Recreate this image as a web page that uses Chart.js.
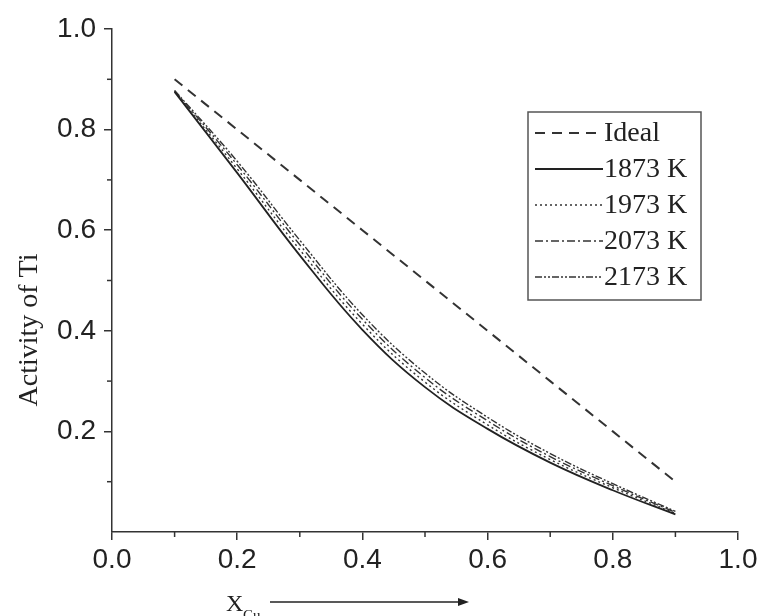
<!DOCTYPE html>
<html>
<head>
<meta charset="utf-8">
<script src="https://cdn.jsdelivr.net/npm/chart.js@4.4.0/dist/chart.umd.min.js"></script>
<style>
  body { margin: 0; background: #fff; }
  canvas { display: block; }
</style>
</head>
<body>
<canvas id="activityChart" width="763" height="616"></canvas>
<script>
// mole fraction of Cu
const xCu = [0.1, 0.2, 0.3, 0.4, 0.5, 0.6, 0.7, 0.8, 0.9];

// activity of Ti
const ideal = [0.9, 0.8, 0.7, 0.6, 0.5, 0.4, 0.3, 0.2, 0.1];
const a1873 = [0.875, 0.714, 0.550, 0.402, 0.288, 0.205, 0.138, 0.083, 0.035];
const a1973 = [0.876, 0.722, 0.561, 0.413, 0.298, 0.213, 0.144, 0.088, 0.037];
const a2073 = [0.877, 0.730, 0.571, 0.423, 0.307, 0.221, 0.150, 0.092, 0.039];
const a2173 = [0.878, 0.737, 0.580, 0.432, 0.316, 0.228, 0.156, 0.096, 0.041];

const seriesLabels = ['Ideal', '1873 K', '1973 K', '2073 K', '2173 K'];
const majorTicks = [0, 0.2, 0.4, 0.6, 0.8, 1.0];
const minorTicks = [0.1, 0.3, 0.5, 0.7, 0.9];

const axisColor = '#333';
const sansFont = "'Liberation Sans', Arial, sans-serif";
const serifFont = "'Liberation Serif', 'Times New Roman', serif";

function toPoints(ys) {
    return xCu.map((x, i) => ({ x: x, y: ys[i] }));
}

// short outward ticks between the labelled ones
const minorTickPlugin = {
    id: 'minorTicks',
    afterDraw(chart) {
        const { ctx, chartArea, scales } = chart;
        ctx.save();
        ctx.strokeStyle = axisColor;
        ctx.lineWidth = 1.5;
        minorTicks.forEach(v => {
            const px = scales.x.getPixelForValue(v);
            ctx.beginPath();
            ctx.moveTo(px, chartArea.bottom);
            ctx.lineTo(px, chartArea.bottom + 5);
            ctx.stroke();
            const py = scales.y.getPixelForValue(v);
            ctx.beginPath();
            ctx.moveTo(chartArea.left, py);
            ctx.lineTo(chartArea.left - 5, py);
            ctx.stroke();
        });
        ctx.restore();
    }
};

// boxed legend inside the plot, line sample followed by the label
const boxLegendPlugin = {
    id: 'boxLegend',
    afterDraw(chart) {
        const { ctx } = chart;
        const left = 528, top = 112, width = 173, height = 188;
        const rowGap = 36, firstRow = 133;
        ctx.save();
        ctx.strokeStyle = '#555';
        ctx.lineWidth = 1.5;
        ctx.strokeRect(left, top, width, height);
        ctx.font = '28px ' + serifFont;
        ctx.textBaseline = 'middle';
        ctx.textAlign = 'left';
        chart.data.datasets.forEach((ds, i) => {
            const y = firstRow + i * rowGap;
            ctx.strokeStyle = ds.borderColor;
            ctx.lineWidth = ds.borderWidth;
            ctx.setLineDash(ds.borderDash || []);
            ctx.beginPath();
            ctx.moveTo(535, y);
            ctx.lineTo(603, y);
            ctx.stroke();
            ctx.setLineDash([]);
            ctx.fillStyle = '#222';
            ctx.fillText(ds.label, 604, y + 1);
        });
        ctx.restore();
    }
};

// axis titles: rotated y title and x_Cu with an arrow
const axisTitlePlugin = {
    id: 'axisTitles',
    afterDraw(chart) {
        const { ctx } = chart;
        ctx.save();
        ctx.fillStyle = '#222';
        ctx.font = '28px ' + serifFont;
        ctx.textAlign = 'center';
        ctx.textBaseline = 'middle';
        ctx.translate(30, 330);
        ctx.rotate(-Math.PI / 2);
        ctx.fillText('Activity of Ti', 0, 0);
        ctx.restore();

        ctx.save();
        ctx.fillStyle = '#222';
        ctx.textAlign = 'left';
        ctx.textBaseline = 'alphabetic';
        ctx.font = '24px ' + serifFont;
        ctx.fillText('X', 226, 611);
        ctx.font = '15px ' + serifFont;
        ctx.fillText('Cu', 243, 620);
        ctx.strokeStyle = '#222';
        ctx.lineWidth = 1.5;
        ctx.beginPath();
        ctx.moveTo(270, 602);
        ctx.lineTo(460, 602);
        ctx.stroke();
        ctx.beginPath();
        ctx.moveTo(469, 602);
        ctx.lineTo(458, 598);
        ctx.lineTo(458, 606);
        ctx.closePath();
        ctx.fill();
        ctx.restore();
    }
};

const ctx = document.getElementById('activityChart').getContext('2d');
new Chart(ctx, {
    type: 'line',
    data: {
        datasets: [
            { label: seriesLabels[0], data: toPoints(ideal), borderColor: '#333', borderWidth: 2, borderDash: [10, 7], tension: 0 },
            { label: seriesLabels[1], data: toPoints(a1873), borderColor: '#222', borderWidth: 1.8, borderDash: [] },
            { label: seriesLabels[2], data: toPoints(a1973), borderColor: '#333', borderWidth: 1.4, borderDash: [2, 3] },
            { label: seriesLabels[3], data: toPoints(a2073), borderColor: '#333', borderWidth: 1.4, borderDash: [8, 3, 2, 3] },
            { label: seriesLabels[4], data: toPoints(a2173), borderColor: '#333', borderWidth: 1.4, borderDash: [7, 2, 2, 2, 2, 2] }
        ]
    },
    options: {
        responsive: false,
        animation: false,
        layout: { padding: { top: 29, right: 25, left: 0, bottom: 0 } },
        elements: {
            point: { radius: 0 },
            line: { tension: 0.4, fill: false }
        },
        plugins: {
            legend: { display: false },
            tooltip: { enabled: false }
        },
        scales: {
            x: {
                type: 'linear',
                min: 0,
                max: 1,
                afterFit: s => { s.height = 84; },
                afterBuildTicks: s => { s.ticks = majorTicks.map(v => ({ value: v })); },
                ticks: {
                    callback: v => v.toFixed(1),
                    font: { family: sansFont, size: 28 },
                    color: '#222',
                    padding: 3,
                    maxRotation: 0,
                    autoSkip: false
                },
                grid: { drawOnChartArea: false, tickLength: 8, color: axisColor, lineWidth: 1.5 },
                border: { color: axisColor, width: 1.5 }
            },
            y: {
                type: 'linear',
                min: 0,
                max: 1,
                afterFit: s => { s.width = 112; },
                afterBuildTicks: s => { s.ticks = majorTicks.map(v => ({ value: v })); },
                ticks: {
                    callback: v => (v === 0 ? null : v.toFixed(1)),
                    font: { family: sansFont, size: 28 },
                    color: '#222',
                    padding: 8
                },
                grid: { drawOnChartArea: false, tickLength: 8, color: axisColor, lineWidth: 1.5 },
                border: { color: axisColor, width: 1.5 }
            }
        }
    },
    plugins: [minorTickPlugin, boxLegendPlugin, axisTitlePlugin]
});
</script>
</body>
</html>
